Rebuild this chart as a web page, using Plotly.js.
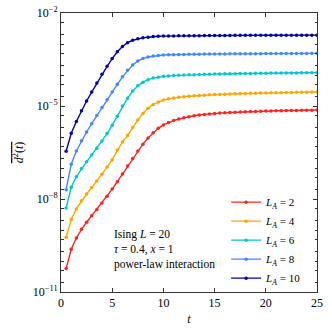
<!DOCTYPE html>
<html><head><meta charset="utf-8">
<script src="https://cdn.plot.ly/plotly-3.0.1.min.js"></script>
<style>html,body{margin:0;padding:0;background:#fff}</style>
</head><body><div id="chart" style="width:332px;height:332px"></div>
<script>
const t = [0.5,1,1.5,2,2.5,3,3.5,4,4.5,5,5.5,6,6.5,7,7.5,8,8.5,9,9.5,10,
  10.5,11,11.5,12,12.5,13,13.5,14,14.5,15,15.5,16,16.5,17,17.5,18,18.5,19,19.5,20,
  20.5,21,21.5,22,22.5,23,23.5,24,24.5,25];

const d2_LA2 = [5.75e-11,2.40e-10,5.50e-10,1.05e-9,1.78e-9,2.88e-9,4.57e-9,7.41e-9,1.23e-8,2.09e-8,
  3.63e-8,6.46e-8,1.15e-7,2.04e-7,3.55e-7,5.89e-7,9.33e-7,1.38e-6,1.91e-6,2.45e-6,
  2.95e-6,3.39e-6,3.80e-6,4.17e-6,4.52e-6,4.84e-6,5.10e-6,5.34e-6,5.55e-6,5.74e-6,
  5.91e-6,6.06e-6,6.19e-6,6.31e-6,6.42e-6,6.52e-6,6.61e-6,6.70e-6,6.78e-6,6.86e-6,
  6.93e-6,7.00e-6,7.06e-6,7.12e-6,7.17e-6,7.22e-6,7.27e-6,7.31e-6,7.35e-6,7.39e-6];

const d2_LA4 = [5.89e-10,2.19e-9,4.79e-9,8.71e-9,1.45e-8,2.34e-8,3.80e-8,6.31e-8,1.07e-7,1.86e-7,
  3.80e-7,6.92e-7,1.12e-6,2.04e-6,3.55e-6,5.75e-6,8.51e-6,1.12e-5,1.35e-5,1.55e-5,
  1.70e-5,1.82e-5,1.91e-5,2.00e-5,2.07e-5,2.13e-5,2.19e-5,2.24e-5,2.29e-5,2.33e-5,
  2.37e-5,2.41e-5,2.45e-5,2.48e-5,2.51e-5,2.54e-5,2.57e-5,2.60e-5,2.62e-5,2.64e-5,
  2.66e-5,2.68e-5,2.70e-5,2.72e-5,2.74e-5,2.76e-5,2.78e-5,2.80e-5,2.82e-5,2.84e-5];

const d2_LA6 = [5.13e-9,2.40e-8,5.25e-8,9.55e-8,1.58e-7,2.63e-7,4.37e-7,7.41e-7,1.29e-6,2.40e-6,
  4.68e-6,1.00e-5,1.78e-5,3.02e-5,4.47e-5,5.89e-5,7.08e-5,7.94e-5,8.51e-5,9.12e-5,
  9.35e-5,9.55e-5,9.75e-5,9.92e-5,1.01e-4,1.02e-4,1.04e-4,1.05e-4,1.06e-4,1.07e-4,
  1.08e-4,1.09e-4,1.10e-4,1.10e-4,1.11e-4,1.12e-4,1.12e-4,1.13e-4,1.14e-4,1.14e-4,
  1.15e-4,1.15e-4,1.16e-4,1.16e-4,1.17e-4,1.17e-4,1.18e-4,1.18e-4,1.19e-4,1.19e-4];

const d2_LA8 = [2.00e-8,1.32e-7,3.55e-7,7.59e-7,1.45e-6,2.69e-6,4.90e-6,8.91e-6,1.58e-5,2.82e-5,
  5.01e-5,8.71e-5,1.41e-4,2.09e-4,2.82e-4,3.39e-4,3.80e-4,4.07e-4,4.27e-4,4.42e-4,
  4.48e-4,4.53e-4,4.57e-4,4.61e-4,4.64e-4,4.67e-4,4.70e-4,4.72e-4,4.74e-4,4.76e-4,
  4.78e-4,4.80e-4,4.82e-4,4.83e-4,4.85e-4,4.86e-4,4.87e-4,4.88e-4,4.89e-4,4.90e-4,
  4.91e-4,4.92e-4,4.93e-4,4.94e-4,4.95e-4,4.96e-4,4.97e-4,4.98e-4,4.99e-4,5.00e-4];

const d2_LA10 = [3.47e-7,1.32e-6,3.16e-6,7.08e-6,1.45e-5,2.82e-5,5.50e-5,1.05e-4,1.91e-4,3.39e-4,
  5.62e-4,8.32e-4,1.10e-3,1.32e-3,1.48e-3,1.58e-3,1.66e-3,1.74e-3,1.78e-3,1.80e-3,
  1.81e-3,1.82e-3,1.83e-3,1.84e-3,1.85e-3,1.85e-3,1.86e-3,1.87e-3,1.87e-3,1.88e-3,
  1.88e-3,1.89e-3,1.89e-3,1.90e-3,1.90e-3,1.90e-3,1.91e-3,1.91e-3,1.91e-3,1.91e-3,
  1.92e-3,1.92e-3,1.92e-3,1.92e-3,1.92e-3,1.93e-3,1.93e-3,1.93e-3,1.93e-3,1.93e-3];

const seriesNames = ['<i>L</i><sub><i>A</i></sub> = 2','<i>L</i><sub><i>A</i></sub> = 4','<i>L</i><sub><i>A</i></sub> = 6','<i>L</i><sub><i>A</i></sub> = 8','<i>L</i><sub><i>A</i></sub> = 10'];
const seriesData = [d2_LA2, d2_LA4, d2_LA6, d2_LA8, d2_LA10];
const seriesColors = ['#ff2222','#ffa500','#00c8cc','#4488ff','#0000a8'];

const xTicks = [0,5,10,15,20,25];
const yTickVals = [1e-11,1e-8,1e-5,1e-2];
const yTickText = ['10<sup>−11</sup>','10<sup>−8</sup>','10<sup>−5</sup>','10<sup>−2</sup>'];
const yMinor = [2e-11,5e-11,1e-10,2e-10,5e-10,1e-9,2e-9,5e-9,
  2e-8,5e-8,1e-7,2e-7,5e-7,1e-6,2e-6,5e-6,
  2e-5,5e-5,1e-4,2e-4,5e-4,1e-3,2e-3,5e-3];
const noteText = 'Ising <i>L</i> = 20<br><i>τ</i> = 0.4, <i>x</i> = 1<br>power-law interaction';

const FONT = 'Liberation Serif, DejaVu Serif, serif';

const traces = seriesData.map((y,i)=>({
  x: t, y: y, type:'scatter', mode:'lines+markers', name: seriesNames[i],
  line:{color:seriesColors[i], width:1.4},
  marker:{color:seriesColors[i], size:3.5}
}));

const layout = {
  width:332, height:332,
  margin:{l:61, r:15, t:13, b:40},
  paper_bgcolor:'#fff', plot_bgcolor:'#fff',
  font:{family:FONT, size:12, color:'#000'},
  showlegend:true,
  legend:{x:0.645, xanchor:'left', y:0.374, yanchor:'top', bgcolor:'rgba(0,0,0,0)',
    font:{family:FONT, size:11}, itemwidth:30, tracegroupgap:0},
  xaxis:{range:[0,25], tickvals:xTicks, ticks:'inside', ticklen:4, tickcolor:'#333',
    showline:true, linecolor:'#333', linewidth:1, mirror:'allticks', showgrid:false, zeroline:false,
    tickfont:{family:FONT,size:12},
    title:{text:'<i>t</i>', font:{family:FONT,size:12}, standoff:5}},
  yaxis:{type:'log', range:[-11,-2], tickvals:yTickVals, ticktext:yTickText, ticks:'inside', ticklen:4, tickcolor:'#333',
    showline:true, linecolor:'#333', linewidth:1, mirror:'allticks', showgrid:false, zeroline:false,
    tickfont:{family:FONT,size:12},
    minor:{tickvals:yMinor, ticks:'inside', ticklen:2.5, tickcolor:'#333', showgrid:false},
    title:{text:'<span style="text-decoration:overline"><i>d</i><sup>2</sup>(<i>t</i>)</span>', font:{family:FONT,size:12}, standoff:6}},
  annotations:[{xref:'paper', yref:'paper', x:0.198, y:0.238, xanchor:'left', yanchor:'top', align:'left', showarrow:false,
    text:noteText, font:{family:FONT,size:11.5}}]
};

Plotly.newPlot('chart', traces, layout, {displayModeBar:false, staticPlot:true});
</script></body></html>
